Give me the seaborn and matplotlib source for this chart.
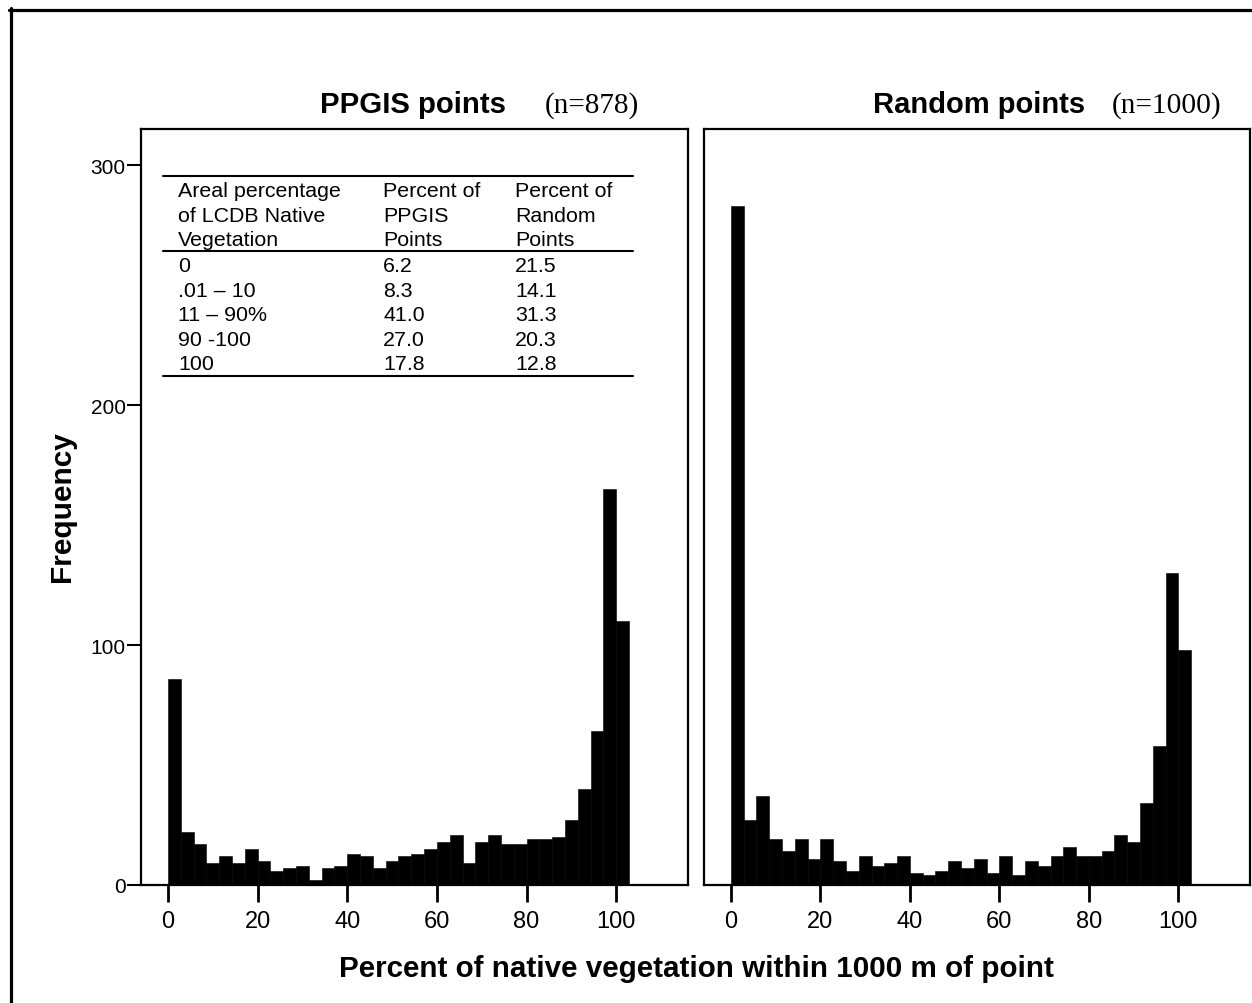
import numpy as np
import pandas as pd
import matplotlib
matplotlib.use("Agg")
import matplotlib.pyplot as plt
from matplotlib.lines import Line2D
import seaborn as sns

# Bin counts (36 bins of width 100/35, starting at 0)
ppgis_counts = [86, 22, 17, 9, 12, 9, 15, 10, 6, 7, 8, 2, 7, 8, 13, 12, 7, 10,
                12, 13, 15, 18, 21, 9, 18, 21, 17, 17, 19, 19, 20, 27, 40, 64, 165, 110]
random_counts = [283, 27, 37, 19, 14, 19, 11, 19, 10, 6, 12, 8, 9, 12, 5, 4, 6, 10,
                 7, 11, 5, 12, 4, 10, 8, 12, 16, 12, 12, 14, 21, 18, 34, 58, 130, 98]
bin_width = 100 / 35

panel_titles = ["PPGIS points", "Random points"]
panel_n = ["(n=878)", "(n=1000)"]

# Inset table
table_header = [["Areal percentage", "of LCDB Native", "Vegetation"],
                ["Percent of", "PPGIS", "Points"],
                ["Percent of", "Random", "Points"]]
table_ranges = ["0", ".01 \u2013 10", "11 \u2013 90%", "90 -100", "100"]
table_ppgis = ["6.2", "8.3", "41.0", "27.0", "17.8"]
table_random = ["21.5", "14.1", "31.3", "20.3", "12.8"]

sns.set_theme(style="white")
plt.rcParams['font.family'] = ['Liberation Sans', 'DejaVu Sans']
plt.rcParams['text.color'] = 'black'
plt.rcParams['axes.labelcolor'] = 'black'
plt.rcParams['xtick.color'] = 'black'
plt.rcParams['ytick.color'] = 'black'

W, H = 1252, 1004
fig = plt.figure(figsize=(W / 100, H / 100), dpi=100)


def fx(px):
    return px / W


def fy(py):
    return 1 - py / H


ax_bottom = 886
ax_top = 130
ax_left = fig.add_axes([fx(141), fy(ax_bottom), (688 - 141) / W, (ax_bottom - ax_top) / H])
ax_right = fig.add_axes([fx(704), fy(ax_bottom), (1250 - 704) / W, (ax_bottom - ax_top) / H])

n_bins = len(ppgis_counts)
centers = (np.arange(n_bins) + 0.5) * bin_width

for ax, counts in [(ax_left, ppgis_counts), (ax_right, random_counts)]:
    df = pd.DataFrame({'pct': centers, 'n': counts})
    sns.histplot(data=df, x='pct', weights='n', binwidth=bin_width,
                 binrange=(0, n_bins * bin_width), color='black', alpha=1,
                 edgecolor='black', linewidth=0.4, ax=ax)
    ax.set_xlim(-6, 116)
    ax.set_ylim(0, 315)
    ax.set_xticks([0, 20, 40, 60, 80, 100])
    ax.set_xlabel('')
    ax.set_ylabel('')
    ax.tick_params(axis='x', direction='out', length=12, width=2, pad=6,
                   labelsize=17, colors='black', bottom=True)
    for s in ax.spines.values():
        s.set_color('black')
        s.set_linewidth(1.6)

ax_left.set_yticks([0, 100, 200, 300])
ax_left.tick_params(axis='y', direction='out', length=10, width=1.5, pad=1,
                    labelsize=15, colors='black', left=True)
ax_right.set_yticks([])

# Panel titles: bold sans + serif sample size
title_y = fy(113)
fig.text(fx(320), title_y, panel_titles[0], fontsize=21.2, fontweight='bold', va='baseline')
fig.text(fx(545), title_y, panel_n[0], fontsize=21, family='Liberation Serif', va='baseline')
fig.text(fx(873), title_y, panel_titles[1], fontsize=21, fontweight='bold', va='baseline')
fig.text(fx(1112), title_y, panel_n[1], fontsize=21.2, family='Liberation Serif', va='baseline')

# Axis labels
fig.text(fx(696), fy(977), "Percent of native vegetation within 1000 m of point",
         fontsize=21.3, fontweight='bold', ha='center', va='baseline')
fig.text(fx(62), fy(507), "Frequency", fontsize=21.5, fontweight='bold',
         rotation=90, ha='center', va='center')

# Inset table
col_x = [178, 383, 515]
line_h = 24.4
for c, lines in enumerate(table_header):
    for i, t in enumerate(lines):
        fig.text(fx(col_x[c]), fy(197.5 + i * line_h), t, fontsize=15.4, va='baseline')
for r in range(len(table_ranges)):
    base = fy(272.5 + r * line_h)
    fig.text(fx(col_x[0]), base, table_ranges[r], fontsize=15.4, va='baseline')
    fig.text(fx(col_x[1]), base, table_ppgis[r], fontsize=15.4, va='baseline')
    fig.text(fx(col_x[2]), base, table_random[r], fontsize=15.4, va='baseline')
for py in [177, 252, 377]:
    fig.add_artist(Line2D([fx(163), fx(633)], [fy(py), fy(py)], color='black', lw=1.5))

# Outer frame (top and left edges only)
fig.add_artist(Line2D([fx(9), 1], [fy(10.5), fy(10.5)], color='black', lw=2.3))
fig.add_artist(Line2D([fx(10.5), fx(10.5)], [0, fy(9)], color='black', lw=2.3))

fig.savefig('out.png', dpi=100)
